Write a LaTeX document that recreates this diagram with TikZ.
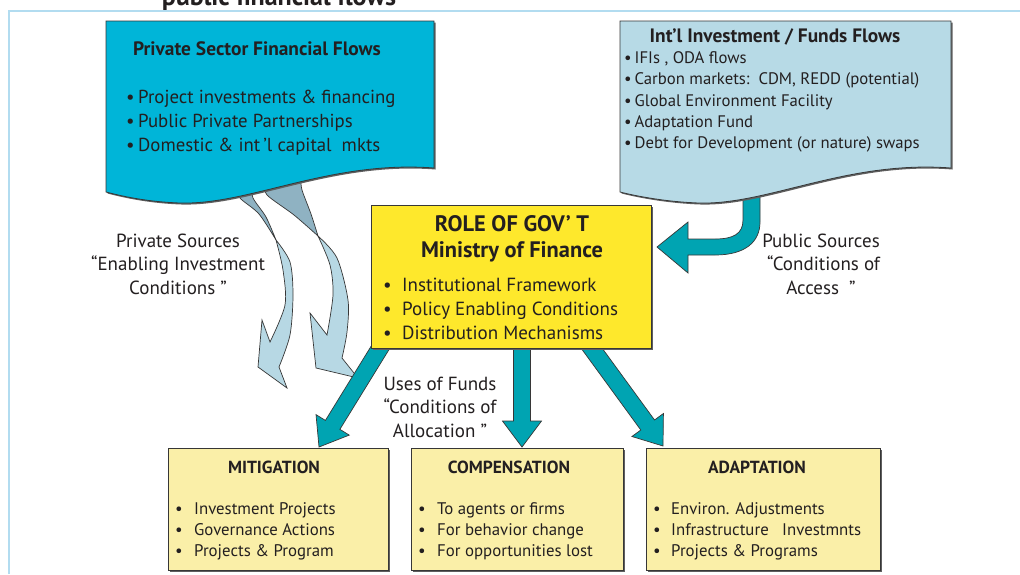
\documentclass[tikz,border=0pt]{standalone}
\usepackage{fontspec}
\setmainfont{PT Sans}
\usetikzlibrary{calc}
\definecolor{ink}{RGB}{35,31,32}
\definecolor{privfill}{RGB}{0,181,216}
\definecolor{intlfill}{RGB}{183,218,230}
\definecolor{govfill}{RGB}{254,232,44}
\definecolor{boxfill}{RGB}{250,239,168}
\definecolor{tealc}{RGB}{0,164,178}
\definecolor{larrowc}{RGB}{183,216,228}
\definecolor{larrowdark}{RGB}{143,178,194}
\definecolor{framec}{RGB}{178,220,240}
\definecolor{edge}{RGB}{55,55,55}
\newcommand\bl[1]{\makebox[#1][l]{\textbullet}}
\newcommand\fatarrow[2]{%
  \coordinate (fa-h) at ($(#2)!26pt!(#1)$);
  \draw[tealarrow] ($(#1)!8.5pt!90:(#2)$) -- ($(fa-h)!8.5pt!-90:(#1)$) -- ($(fa-h)!19.5pt!-90:(#1)$) -- (#2) -- ($(fa-h)!19.5pt!90:(#1)$) -- ($(fa-h)!8.5pt!90:(#1)$) -- ($(#1)!8.5pt!-90:(#2)$) -- cycle;}
\tikzset{
  txt/.style={text=ink, inner sep=0pt},
  shapeline/.style={draw=edge, line width=0.8pt},
  tealarrow/.style={fill=tealc, draw=edge, line width=0.7pt, line join=miter},
  larrow/.style={fill=larrowc, draw=edge, line width=0.7pt},
  larrowback/.style={fill=larrowdark, draw=edge, line width=0.7pt},
  catbox/.style={fill=boxfill, draw=edge, line width=0.8pt, minimum height=122pt, inner sep=0pt},
  shadow/.style={fill=edge!80, draw=none},
  f18/.style={font=\fontsize{18.8}{24}\selectfont},
  labelfont/.style={font=\fontsize{19}{23.5}\selectfont, align=center},
  cattitle/.style={font=\fontsize{17.5}{20}\bfseries\selectfont},
  catlist/.style={anchor=west, align=left, font=\fontsize{16.8}{21}\selectfont},
}
\begin{document}
\begin{tikzpicture}[x=1pt,y=-1pt]
\useasboundingbox (0,0) rectangle (1020,574);
\clip (0,0) rectangle (1020,574);
\fill[white] (0,0) rectangle (1020,574);
% clipped heading
\node[txt, anchor=base, font=\fontsize{26}{30}\bfseries] (heading) at (279,5) {public financial flows};
% frame
\draw[framec, line width=2.5pt] (9,574) -- (9,11) -- (1022,11);

% light-blue curved arrows (private sources)
\draw[larrowback] plot[smooth] coordinates {(236,186) (240,198) (259,214) (276,240)} -- plot[smooth] coordinates {(276,240) (266,217) (253,198) (252,186)} -- cycle;
\draw[larrow] plot[smooth] coordinates {(276,240) (283,270) (285,305) (270,342)} -- (262,320) -- (258,367) -- (287,388) -- (279,367) -- plot[smooth] coordinates {(279,367) (290,335) (293,295) (290,262) (276,240)} -- cycle;
\draw[larrowback] plot[smooth] coordinates {(265,184) (267,195) (294,215) (318,236)} -- plot[smooth] coordinates {(318,236) (311,214) (302,190) (301,180)} -- cycle;
\draw[larrow] plot[smooth] coordinates {(318,236) (330,265) (333,295) (327,335)} -- (310,313) -- (316,368) -- (358,378) -- (342,358) -- plot[smooth] coordinates {(342,358) (347,332) (348,300) (337,258) (318,236)} -- cycle;

% private sector box
\fill[shadow] (107.5,22.5) -- (435.5,22.5) -- (435.5,169.5) .. controls (331.5,161.5) and (251.5,206.5) .. (181.5,204.5) .. controls (151.5,203.5) and (126.5,198.5) .. (107.5,193.5) -- cycle;
\draw[shapeline, fill=privfill] (106,21) -- (434,21) -- (434,168) .. controls (330,160) and (250,205) .. (180,203) .. controls (150,202) and (125,197) .. (106,192) -- cycle;
\node[txt, font=\fontsize{19.4}{22}\bfseries\selectfont] (privtitle) at (257,49) {Private Sector Financial Flows};
\node[txt, f18, anchor=west, align=left] (privlist) at (126,123) {\bl{12pt}Project investments \& financing\\\bl{12pt}Public Private Partnerships\\\bl{12pt}Domestic \& int\,’l capital\ \ mkts};

% public sources arrow
\draw[tealarrow] (743,190) -- (743,220) .. controls (743,234) and (733,239) .. (715,239) -- (688,239) -- (688,222) -- (657,247) -- (688,273) -- (688,255) -- (715,255) .. controls (745,255) and (760,242) .. (760,222) -- (760,190) -- cycle;

% international box
\fill[shadow] (621.5,22.5) -- (952.5,22.5) -- (952.5,169.5) .. controls (848.5,161.5) and (769.5,206.5) .. (700.5,204.5) .. controls (670.5,203.5) and (641.5,198.5) .. (621.5,193.5) -- cycle;
\draw[shapeline, fill=intlfill] (620,21) -- (951,21) -- (951,168) .. controls (847,160) and (768,205) .. (699,203) .. controls (669,202) and (640,197) .. (620,192) -- cycle;
\node[txt, font=\fontsize{19.4}{22}\bfseries\selectfont] (intltitle) at (775,37) {Int’l Investment / Funds Flows};
\node[txt, anchor=west, align=left, font=\fontsize{16.7}{21.4}\selectfont] (intllist) at (624,102) {\bl{10.5pt}IFIs\ , ODA flows\\\bl{10.5pt}Carbon markets:\ \ CDM, REDD (potential)\\\bl{10.5pt}Global Environment Facility\\\bl{10.5pt}Adaptation Fund\\\bl{10.5pt}Debt for Development (or nature) swaps};

% teal arrows from government box
\coordinate (s1) at (388,335);
\coordinate (t1) at (319,447);
\coordinate (s2) at (522,335);
\coordinate (t2) at (522,447);
\coordinate (s3) at (582,335);
\coordinate (t3) at (663,446);
\fatarrow{s1}{t1}
\fatarrow{s2}{t2}
\fatarrow{s3}{t3}

% government box
\fill[shadow] (372.5,206.5) rectangle (652.5,349.5);
\node[draw=edge, line width=0.8pt, fill=govfill, minimum width=280pt, minimum height=143pt, inner sep=0pt] (gov) at (511,276.5) {};
\node[txt, align=center, font=\fontsize{22.4}{26}\bfseries\selectfont] (govtitle) at (512,239) {ROLE OF GOV’ T\\Ministry of Finance};
\node[txt, f18, anchor=west, align=left, font=\fontsize{19}{24}\selectfont] (govlist) at (383,309) {\bl{19pt}Institutional Framework\\\bl{19pt}Policy Enabling Conditions\\\bl{19pt}Distribution Mechanisms};

% labels
\node[txt, labelfont] (privsrc) at (178,264) {Private Sources\\“Enabling Investment\\Conditions ”};
\node[txt, labelfont] (pubsrc) at (821,264) {Public Sources\\\ “Conditions of\\Access\ \ ”};
\node[txt, labelfont] (uses) at (440,407) {Uses of Funds\\“Conditions of\\Allocation ”};

% category boxes
\fill[shadow] (169.5,449.5) rectangle (389.5,571.5);
\fill[shadow] (412.5,449.5) rectangle (624.5,571.5);
\fill[shadow] (647.5,449.5) rectangle (881.5,571.5);
\node[catbox, minimum width=220pt] (mit) at (278,509) {};
\node[catbox, minimum width=212pt] (comp) at (517,509) {};
\node[catbox, minimum width=234pt] (adapt) at (763,509) {};
\node[txt, cattitle] (mittitle) at (274,467) {MITIGATION};
\node[txt, cattitle] (comptitle) at (509,467) {COMPENSATION};
\node[txt, cattitle] (adapttitle) at (757,467) {ADAPTATION};
\node[txt, catlist] (mitlist) at (175,531) {\bl{19pt}Investment Projects\\\bl{19pt}Governance Actions\\\bl{19pt}Projects \& Program};
\node[txt, catlist] (complist) at (418,531) {\bl{19pt}To agents or firms\\\bl{19pt}For behavior change\\\bl{19pt}For opportunities lost};
\node[txt, catlist] (adaptlist) at (653,531) {\bl{18pt}Environ. Adjustments\\\bl{18pt}Infrastructure\ \ \ Investmnts\\\bl{18pt}Projects \& Programs};
\end{tikzpicture}
\end{document}
